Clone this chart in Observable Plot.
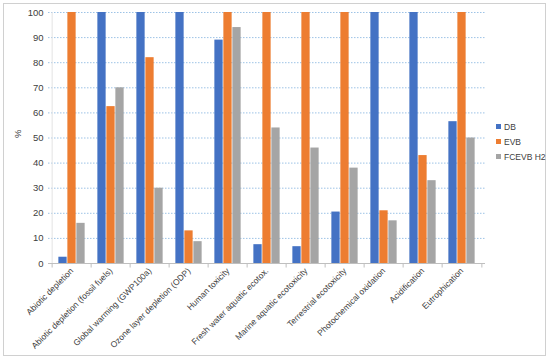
<!DOCTYPE html>
<html><head><meta charset="utf-8">
<script src="https://cdn.jsdelivr.net/npm/d3@7"></script>
<script src="https://cdn.jsdelivr.net/npm/@observablehq/plot@0.6"></script>
<style>
body{margin:0;background:#fff;font-family:"Liberation Sans",Arial,sans-serif;}
#wrap{position:relative;width:550px;height:360px;}
#border{position:absolute;left:3px;top:3px;width:541px;height:351px;border:1px solid #d0d0d0;}
#legend{position:absolute;left:496px;top:119px;font-size:8.5px;color:#404040;white-space:nowrap;}
#legend div{height:15px;display:flex;align-items:center;white-space:nowrap;}
#legend span.sw{display:inline-block;width:5px;height:5px;margin-right:3px;}
#chart{position:absolute;left:0;top:0;}
</style></head>
<body>
<div id="wrap"><div id="border"></div><div id="chart"></div><div id="legend"></div></div>
<script>
const categories = ["Abiotic depletion","Abiotic depletion (fossil fuels)","Global warming (GWP100a)","Ozone layer depletion (ODP)","Human toxicity","Fresh water aquatic ecotox.","Marine aquatic ecotoxicity","Terrestrial ecotoxicity","Photochemical oxidation","Acidification","Eutrophication"];
const seriesNames = ["DB","EVB","FCEVB H2"];
const DB   = [2.5, 100, 100, 100, 89, 7.5, 6.7, 20.5, 100, 100, 56.5];
const EVB  = [100, 62.5, 82, 13, 100, 100, 100, 100, 21, 43, 100];
const FCEVB= [16, 70, 30, 8.7, 94, 54, 46, 38, 17, 33, 50];
const yTicks = [0,10,20,30,40,50,60,70,80,90,100];
const colors = ["#4472C4","#ED7D31","#A5A5A5"];

const seriesVals = [DB, EVB, FCEVB];
const data = [];
seriesNames.forEach((s,i)=>categories.forEach((c,j)=>data.push({category:c, series:s, value:seriesVals[i][j]})));

const W=550,H=360,ML=48,MR=65,MT=12,MB=97;
const band=(W-ML-MR)/categories.length;
const barW=9;
const inset=(band-barW)/2;
const last = categories[categories.length-1];
const FONT='"Liberation Sans",Arial,sans-serif';

const bars = seriesNames.map((s,i)=>Plot.barY(data.filter(d=>d.series===s),{
  x:"category", y:"value", fill: colors[i], insetLeft:inset, insetRight:inset, dx:(i-1)*barW
}));

const plot = Plot.plot({
  width:W, height:H,
  marginLeft:ML, marginRight:MR, marginTop:MT, marginBottom:MB,
  style:{fontFamily:FONT, fontSize:"8.5px", color:"#404040", background:"transparent"},
  x:{type:"band", domain:categories, padding:0, label:null},
  y:{domain:[0,100], ticks:yTicks, label:null},
  marks:[
    Plot.ruleY(yTicks.filter(t=>t>0),{stroke:"#9dc3e6", strokeDasharray:"1.5,1.5", strokeWidth:1}),
    Plot.ruleX([categories[0]],{dx:-band/2, y1:0, y2:100, stroke:"#e3e3e3"}),
    ...bars,
    Plot.ruleY([0],{stroke:"#bfbfbf"}),
    Plot.ruleX(categories,{dx:-band/2, y1:0, y2:-1.8, stroke:"#bfbfbf"}),
    Plot.ruleX([last],{dx:band/2, y1:0, y2:-1.8, stroke:"#bfbfbf"}),
    Plot.axisY({ticks:yTicks, tickSize:0, tickPadding:5, label:null, fill:"#404040", fontSize:9.5}),
    Plot.axisX({tickSize:0, tickRotate:-45, tickPadding:6, label:null, fill:"#404040", fontSize:8.5}),
    Plot.text(["%"],{frameAnchor:"left", dx:-31, rotate:-90, fill:"#404040", fontSize:9.5})
  ]
});
document.getElementById("chart").appendChild(plot);

const lg=document.getElementById("legend");
seriesNames.forEach((s,i)=>{
  const d=document.createElement("div");
  d.innerHTML=`<span class="sw" style="background:${colors[i]}"></span>${s}`;
  lg.appendChild(d);
});
</script>
</body></html>
